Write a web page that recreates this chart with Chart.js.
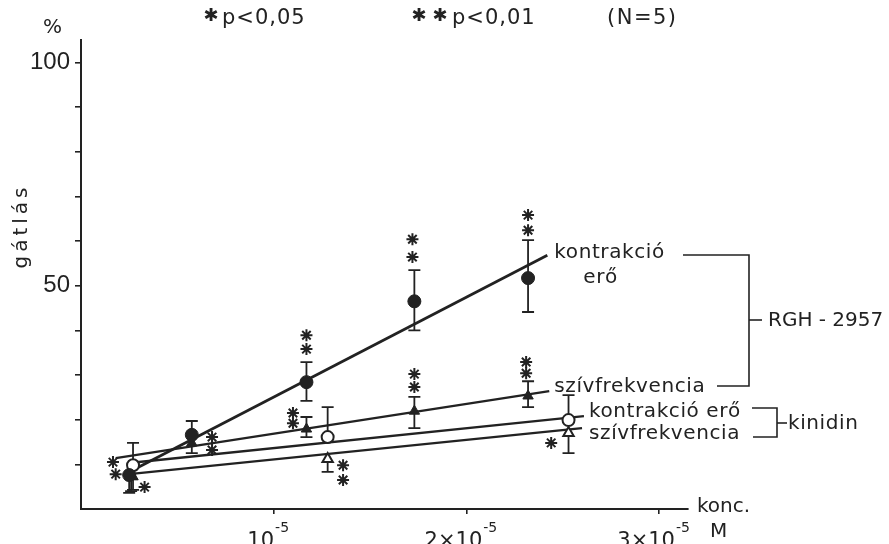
<!DOCTYPE html>
<html><head><meta charset="utf-8">
<script src="https://cdn.jsdelivr.net/npm/chart.js@4.4.0/dist/chart.umd.min.js"></script>
<style>html,body{margin:0;padding:0;background:#fff;}canvas{display:block;}</style>
</head><body>
<canvas id="c" width="889" height="544"></canvas>
<script>
// x: concentration in units of 10^-5 M ; y: gátlás (%)
const rghKontrX  = [0.25, 0.575, 1.17, 1.73, 2.32];
const rghKontrY  = [7.6, 16.6, 28.4, 46.5, 51.7];
const rghKontrHi = [null, 19.7, 32.9, 53.5, 60.2];
const rghKontrLo = [3.6, null, 24.2, 40.0, 44.1];

const rghSzivX  = [0.27, 0.575, 1.17, 1.73, 2.32];
const rghSzivY  = [7.2, 14.8, 17.9, 21.9, 25.3];
const rghSzivHi = [null, null, 20.6, 25.1, 28.6];
const rghSzivLo = [4.3, 12.5, 16.1, 18.1, 22.8];

const kinKontrX  = [0.27, 1.28, 2.53];
const kinKontrY  = [9.8, 16.1, 19.9];
const kinKontrHi = [14.8, 22.8, 25.5];
const kinKontrLo = [null, null, null];

const kinSzivX  = [0.26, 1.28, 2.53];
const kinSzivY  = [7.4, 11.2, 17.0];
const kinSzivHi = [null, null, null];
const kinSzivLo = [4.0, 8.3, 12.5];

// fitted lines (start, end)
const rghKontrFitX = [0.25, 2.42], rghKontrFitY = [8.3, 56.8];
const rghSzivFitX  = [0.18, 2.43], rghSzivFitY  = [11.4, 26.4];
const kinKontrFitX = [0.25, 2.61], kinKontrFitY = [10.3, 20.8];
const kinSzivFitX  = [0.25, 2.60], kinSzivFitY  = [7.8, 18.1];

// significance asterisks
const starX = [0.166, 0.18, 0.33, 0.68, 0.68, 1.10, 1.10, 1.17, 1.17, 1.36, 1.36, 1.72, 1.72, 1.73, 1.73, 2.32, 2.32, 2.31, 2.31, 2.44];
const starY = [10.5, 7.8, 4.9, 16.1, 13.2, 21.5, 19.2, 38.9, 35.8, 9.8, 6.5, 60.4, 56.4, 30.2, 27.3, 65.8, 62.4, 32.9, 30.4, 14.8];

// ticks
const xTickValues = [1, 2, 3];
const xTickBase = ['10', '2×10', '3×10'];
const xTickExp = '-5';
const yTickLabeled = [50, 100];

const ink = '#222';
const FONT = '"DejaVu Sans", sans-serif';
const pts = (xs, ys) => xs.map((v, i) => ({x: v, y: ys[i]}));

function drawErrors(chart, xs, ys, hi, lo) {
  const {ctx, scales: {x, y}} = chart;
  ctx.save();
  ctx.strokeStyle = ink; ctx.lineWidth = 1.8;
  const cap = 6;
  xs.forEach((xv, i) => {
    const px = x.getPixelForValue(xv), py = y.getPixelForValue(ys[i]);
    [hi[i], lo[i]].forEach(v => {
      if (v == null) return;
      const t = y.getPixelForValue(v);
      ctx.beginPath(); ctx.moveTo(px, py); ctx.lineTo(px, t);
      ctx.moveTo(px - cap, t); ctx.lineTo(px + cap, t); ctx.stroke();
    });
  });
  ctx.restore();
}

const errorBars = {
  id: 'errorBars',
  beforeDatasetsDraw(chart) {
    drawErrors(chart, rghKontrX, rghKontrY, rghKontrHi, rghKontrLo);
    drawErrors(chart, rghSzivX, rghSzivY, rghSzivHi, rghSzivLo);
    drawErrors(chart, kinKontrX, kinKontrY, kinKontrHi, kinKontrLo);
    drawErrors(chart, kinSzivX, kinSzivY, kinSzivHi, kinSzivLo);
  }
};

function line(ctx, pts) {
  ctx.beginPath(); ctx.moveTo(pts[0], pts[1]);
  for (let i = 2; i < pts.length; i += 2) ctx.lineTo(pts[i], pts[i + 1]);
  ctx.stroke();
}

const annotations = {
  id: 'annotations',
  afterDraw(chart) {
    const {ctx, scales: {x, y}} = chart;
    ctx.save();
    ctx.fillStyle = ink; ctx.strokeStyle = ink; ctx.lineWidth = 1.6;
    ctx.textBaseline = 'alphabetic'; ctx.textAlign = 'left';

    // x tick labels with exponent
    xTickValues.forEach((v, i) => {
      ctx.font = '21px ' + FONT;
      const bw = ctx.measureText(xTickBase[i]).width;
      ctx.font = '14px ' + FONT;
      const ew = ctx.measureText(xTickExp).width;
      const cx = x.getPixelForValue(v) - 6;
      const left = cx - (bw + ew) / 2;
      ctx.font = '21px ' + FONT;
      ctx.fillText(xTickBase[i], left, 547);
      ctx.font = '14px ' + FONT;
      ctx.fillText(xTickExp, left + bw + 1, 532);
    });

    ctx.font = '20px ' + FONT;
    ctx.fillText('konc.', 697, 512);
    ctx.fillText('M', 710, 537);
    ctx.fillText('%', 43, 33);

    // y title
    ctx.save();
    ctx.translate(27, 226); ctx.rotate(-Math.PI / 2);
    ctx.textAlign = 'center';
    ctx.letterSpacing = '4px';
    ctx.fillText('gátlás', 0, 0);
    ctx.restore();

    // header
    ctx.textBaseline = 'middle';
    ctx.font = '18px ' + FONT;
    ctx.textAlign = 'center';
    ctx.fillText('✱', 211, 16);
    ctx.fillText('✱', 419, 16);
    ctx.fillText('✱', 440, 16);
    ctx.textAlign = 'left';
    ctx.textBaseline = 'alphabetic';
    ctx.font = '21px ' + FONT;
    ctx.letterSpacing = '1px';
    ctx.fillText('p<0,05', 222, 24);
    ctx.fillText('p<0,01', 452, 24);
    ctx.letterSpacing = '1.5px';
    ctx.fillText('(N=5)', 607, 24);

    // series labels, anchored at the ends of the fitted lines
    ctx.font = '20px ' + FONT;
    ctx.letterSpacing = '0.6px';
    ctx.textBaseline = 'middle';
    const endPx = (fx, fy) => [x.getPixelForValue(fx[1]), y.getPixelForValue(fy[1])];
    let [ex, ey] = endPx(rghKontrFitX, rghKontrFitY);
    ctx.fillText('kontrakció', ex + 7, ey - 2);
    ctx.fillText('erő', ex + 36, ey + 23);
    [ex, ey] = endPx(rghSzivFitX, rghSzivFitY);
    ctx.fillText('szívfrekvencia', ex + 5, ey - 4);
    [ex, ey] = endPx(kinKontrFitX, kinKontrFitY);
    ctx.fillText('kontrakció erő', ex + 5, ey - 4);
    [ex, ey] = endPx(kinSzivFitX, kinSzivFitY);
    ctx.fillText('szívfrekvencia', ex + 7, ey + 6);

    // brackets
    line(ctx, [683, 255, 749, 255, 749, 386, 717, 386]);
    line(ctx, [749, 320, 762, 320]);
    ctx.letterSpacing = '0px';
    ctx.fillText('RGH - 2957', 768, 321);
    line(ctx, [752, 408, 777, 408, 777, 437, 753, 437]);
    line(ctx, [777, 423, 787, 423]);
    ctx.letterSpacing = '0.6px';
    ctx.fillText('kinidin', 788, 424);
    ctx.restore();
  }
};

const fitStyle = {showLine: true, pointRadius: 0, borderColor: ink, borderWidth: 2.4, fill: false, order: 3};

new Chart(document.getElementById('c'), {
  type: 'scatter',
  data: {
    datasets: [
      {label: 'RGH kontrakció erő', data: pts(rghKontrX, rghKontrY), pointStyle: 'circle', pointRadius: 6.5,
       backgroundColor: ink, borderColor: ink, borderWidth: 1, order: 1},
      {label: 'RGH szívfrekvencia', data: pts(rghSzivX, rghSzivY), pointStyle: 'triangle', pointRadius: 6,
       backgroundColor: ink, borderColor: ink, borderWidth: 1, order: 1},
      {label: 'kinidin kontrakció erő', data: pts(kinKontrX, kinKontrY), pointStyle: 'circle', pointRadius: 6,
       backgroundColor: '#fff', borderColor: ink, borderWidth: 2, order: 1},
      {label: 'kinidin szívfrekvencia', data: pts(kinSzivX, kinSzivY), pointStyle: 'triangle', pointRadius: 6,
       backgroundColor: '#fff', borderColor: ink, borderWidth: 2, order: 1},
      {label: 'p', data: pts(starX, starY), pointStyle: 'star', pointRadius: 6,
       backgroundColor: ink, borderColor: ink, borderWidth: 2, order: 0},
      Object.assign({label: 'fit1', data: pts(rghKontrFitX, rghKontrFitY)}, fitStyle, {borderWidth: 2.8}),
      Object.assign({label: 'fit2', data: pts(rghSzivFitX, rghSzivFitY)}, fitStyle),
      Object.assign({label: 'fit3', data: pts(kinKontrFitX, kinKontrFitY)}, fitStyle),
      Object.assign({label: 'fit4', data: pts(kinSzivFitX, kinSzivFitY)}, fitStyle)
    ]
  },
  options: {
    responsive: false, animation: false, devicePixelRatio: 1,
    layout: {padding: {top: 40, right: 201, left: 0, bottom: 0}},
    plugins: {legend: {display: false}, tooltip: {enabled: false}},
    scales: {
      x: {
        type: 'linear', min: 0, max: 3.15,
        afterFit: s => { s.height = 35; },
        border: {display: true, color: ink, width: 2},
        grid: {drawOnChartArea: false, drawTicks: true, tickLength: 5, lineWidth: 1.6,
               tickColor: c => (c.tick && c.tick.value === 0) ? 'rgba(0,0,0,0)' : ink},
        ticks: {display: false, stepSize: 1, includeBounds: false}
      },
      y: {
        type: 'linear', min: 0, max: 105,
        afterFit: s => { s.width = 81; },
        border: {display: true, color: ink, width: 2},
        grid: {drawOnChartArea: false, drawTicks: true, tickLength: 6, lineWidth: 1.6,
               tickColor: c => (c.tick && c.tick.value === 0) ? 'rgba(0,0,0,0)' : ink},
        ticks: {stepSize: 10, includeBounds: false, padding: 5, color: ink,
                font: {family: 'Liberation Sans', size: 24},
                callback: v => yTickLabeled.includes(v) ? String(v) : ''}
      }
    }
  },
  plugins: [errorBars, annotations]
});
</script>
</body></html>
